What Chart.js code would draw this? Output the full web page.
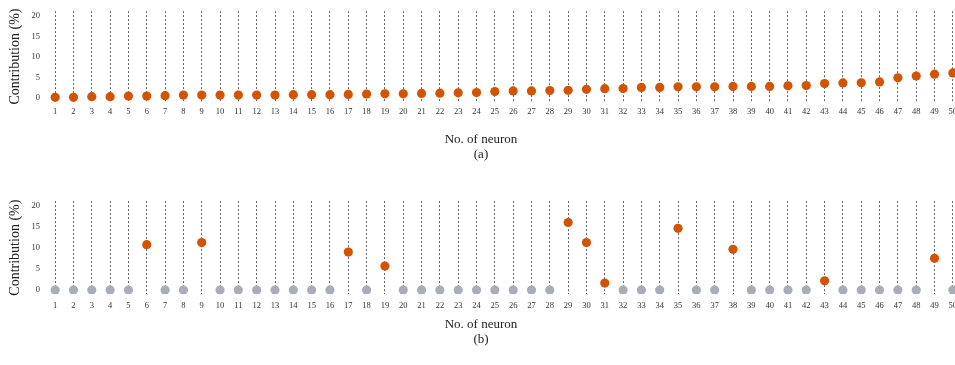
<!DOCTYPE html>
<html>
<head>
<meta charset="utf-8">
<script src="https://cdn.jsdelivr.net/npm/chart.js@4.4.0/dist/chart.umd.min.js"></script>
<style>
    html, body { margin: 0; padding: 0; background: #fff; overflow: hidden; }
    #wrap { position: relative; width: 955px; height: 365px; overflow: hidden; }
    canvas { position: absolute; left: 0; }
    #chart_a { top: 0; }
    #chart_b { top: 190px; }
</style>
</head>
<body>
<div id="wrap">
    <canvas id="chart_a" width="994" height="170"></canvas>
    <canvas id="chart_b" width="994" height="175"></canvas>
</div>
<script>
const neurons = ['1','2','3','4','5','6','7','8','9','10','11','12','13','14','15','16','17','18','19','20',
    '21','22','23','24','25','26','27','28','29','30','31','32','33','34','35','36','37','38','39','40',
    '41','42','43','44','45','46','47','48','49','50'];

const yTicks = [0, 5, 10, 15, 20];

// (a) contributions, sorted
const contributionA = [0.15, 0.15, 0.3, 0.3, 0.45, 0.45, 0.55, 0.7, 0.7, 0.7,
    0.7, 0.7, 0.7, 0.8, 0.8, 0.8, 0.85, 0.95, 1.0, 1.0,
    1.1, 1.15, 1.25, 1.3, 1.55, 1.7, 1.7, 1.8, 1.85, 2.1,
    2.25, 2.3, 2.55, 2.55, 2.7, 2.7, 2.7, 2.8, 2.8, 2.8,
    2.95, 3.0, 3.5, 3.65, 3.7, 3.9, 4.9, 5.35, 5.8, 6.1];

// (b) contributions, mostly zero
const contributionB = [0, 0, 0, 0, 0, 10.8, 0, 0, 11.3, 0,
    0, 0, 0, 0, 0, 0, 9.05, 0, 5.7, 0,
    0, 0, 0, 0, 0, 0, 0, 0, 16.1, 11.3,
    1.65, 0, 0, 0, 14.7, 0, 0, 9.7, 0, 0,
    0, 0, 2.2, 0, 0, 0, 0, 0, 7.55, 0];

const ORANGE = '#d35400';
const GREY = '#a9aeb6';
const SERIF = "'Liberation Serif', 'Times New Roman', serif";

function makeChart(id, values, caption, lay) {
    const colors = values.map(v => v > 0 ? ORANGE : GREY);
    return new Chart(document.getElementById(id), {
        type: 'line',
        data: {
            labels: neurons,
            datasets: [{
                data: values,
                showLine: false,
                pointRadius: 4.6,
                pointHoverRadius: 4.6,
                pointBackgroundColor: colors,
                pointBorderColor: colors,
                pointBorderWidth: 0
            }]
        },
        options: {
            responsive: false,
            animation: false,
            devicePixelRatio: 1,
            layout: { padding: { top: lay.top, left: 0, right: 32, bottom: 0 } },
            plugins: {
                legend: { display: false },
                tooltip: { enabled: false },
                title: {
                    display: true,
                    position: 'bottom',
                    text: ['No. of neuron', caption],
                    color: '#222',
                    font: { family: SERIF, size: 13, weight: 'normal', lineHeight: 15 / 13 },
                    padding: { top: lay.titleTop, bottom: lay.titleBottom }
                }
            },
            scales: {
                x: {
                    offset: true,
                    grid: { display: true, drawTicks: false, color: '#666', lineWidth: 1 },
                    // in v4 the dash of the grid lines sits on border
                    border: { display: false, dash: [2, 2] },
                    ticks: {
                        color: '#333',
                        padding: lay.xPad,
                        maxRotation: 0,
                        autoSkip: false,
                        font: { family: SERIF, size: 8.5 }
                    },
                    afterFit: s => { s.height = lay.xHeight; }
                },
                y: {
                    min: -1,
                    max: 21.2,
                    grid: { display: false, drawTicks: false },
                    border: { display: false },
                    afterBuildTicks: s => { s.ticks = yTicks.map(v => ({ value: v })); },
                    ticks: {
                        color: '#333',
                        padding: 6,
                        font: { family: SERIF, size: 8.5 }
                    },
                    title: {
                        display: true,
                        text: 'Contribution (%)',
                        color: '#222',
                        font: { family: SERIF, size: 14 },
                        padding: { top: 7, bottom: 0 }
                    },
                    afterFit: s => { s.width = 46; }
                }
            }
        }
    });
}

const chartA = makeChart('chart_a', contributionA, '(a)',
    { top: 6.5, xPad: 5, xHeight: 14, titleTop: 16, titleBottom: 8 });
const chartB = makeChart('chart_b', contributionB, '(b)',
    { top: 10.6, xPad: 6.8, xHeight: 16, titleTop: 7.3, titleBottom: 17.5 });
</script>
</body>
</html>
